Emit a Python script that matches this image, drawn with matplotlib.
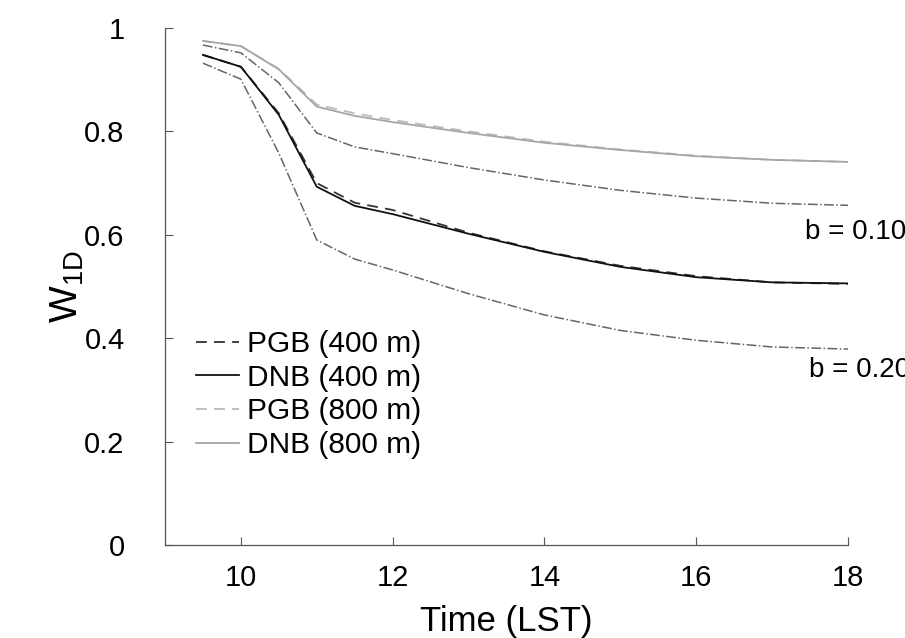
import matplotlib
matplotlib.use("Agg")
import matplotlib.pyplot as plt
from matplotlib.ticker import FormatStrFormatter
import numpy as np

plt.rcParams['font.family'] = ['Liberation Sans', 'DejaVu Sans']

# hours (LST)
time = [9.5, 10, 10.5, 11, 11.5, 12, 13, 14, 15, 16, 17, 18]

# W_1D values
pgb_400 = [0.948, 0.925, 0.835, 0.700, 0.662, 0.648, 0.604, 0.568, 0.540, 0.520, 0.508, 0.505]
dnb_400 = [0.948, 0.925, 0.832, 0.693, 0.656, 0.640, 0.602, 0.567, 0.538, 0.518, 0.508, 0.506]
pgb_800 = [0.975, 0.965, 0.921, 0.852, 0.835, 0.822, 0.800, 0.780, 0.765, 0.753, 0.745, 0.741]
dnb_800 = [0.975, 0.965, 0.920, 0.848, 0.830, 0.818, 0.797, 0.778, 0.764, 0.752, 0.745, 0.741]
b_010 = [0.967, 0.952, 0.894, 0.797, 0.770, 0.757, 0.730, 0.706, 0.686, 0.671, 0.661, 0.657]
b_020 = [0.932, 0.901, 0.758, 0.590, 0.553, 0.532, 0.486, 0.445, 0.415, 0.396, 0.383, 0.379]

fig = plt.figure(figsize=(9.05, 6.38), dpi=100)
ax = fig.add_axes([0.1823, 0.1458, 0.7547, 0.8103])

ax.plot(time, b_010, color='#666666', lw=1.1, ls='-.')
ax.plot(time, b_020, color='#666666', lw=1.1, ls='-.')
ax.plot(time, pgb_400, color='#333333', lw=1.3, ls=(0, (6, 4)), label='PGB (400 m)')
ax.plot(time, dnb_400, color='#111111', lw=1.3, label='DNB (400 m)')
ax.plot(time, pgb_800, color='#bbbbbb', lw=1.3, ls=(0, (6, 4)), label='PGB (800 m)')
ax.plot(time, dnb_800, color='#a6a6a6', lw=1.3, label='DNB (800 m)')

# b labels run past the right edge of the figure, as in the original
ax.text(17.44, 0.606, 'b = 0.10', fontsize=20, ha='left', va='center', clip_on=False)
ax.text(17.48, 0.338, 'b = 0.20', fontsize=20, ha='left', va='center', clip_on=False)

ax.set_xlim(9, 18)
ax.set_ylim(0, 1)
ax.set_xticks([10, 12, 14, 16, 18])
ax.set_yticks([0, 0.2, 0.4, 0.6, 0.8, 1])
ax.yaxis.set_major_formatter(FormatStrFormatter('%g'))
ax.tick_params(direction='in', length=6, width=0.8, color='#555555', labelsize=21)
ax.tick_params(axis='y', pad=29)
ax.tick_params(axis='x', pad=14)

for s in ['top', 'right']:
    ax.spines[s].set_visible(False)
for s in ['left', 'bottom']:
    ax.spines[s].set_color('#555555')
    ax.spines[s].set_linewidth(0.9)

ax.set_xlabel('Time (LST)', fontsize=25, labelpad=9)
ax.set_ylabel('W$_{\\mathregular{1D}}$', fontsize=28, labelpad=-1)

ax.legend(loc='upper left', bbox_to_anchor=(196 / 905, 1 - 330 / 638),
          bbox_transform=fig.transFigure, frameon=False, fontsize=21.5,
          handlelength=1.45, handletextpad=0.25, labelspacing=0.19,
          borderpad=0, borderaxespad=0)

fig.savefig('out.png', dpi=100)
